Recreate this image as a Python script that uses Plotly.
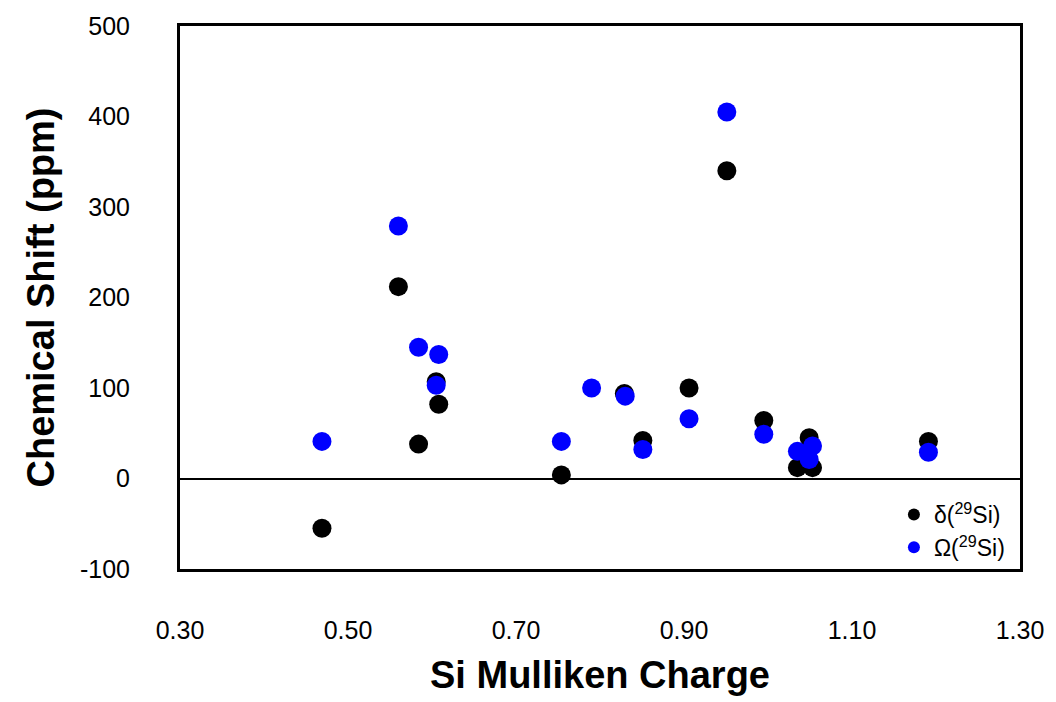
import plotly.graph_objects as go

# Si Mulliken charge (x) and chemical-shift values (ppm)
delta_x = [0.469, 0.560, 0.584, 0.605, 0.608, 0.754, 0.829, 0.851, 0.906, 0.951, 0.995, 1.035, 1.049, 1.053, 1.191]
delta_y = [-55, 212, 38, 107, 82, 4, 94, 42, 100, 340, 64, 12, 45, 12, 41]

omega_x = [0.469, 0.560, 0.584, 0.605, 0.608, 0.754, 0.790, 0.830, 0.851, 0.906, 0.951, 0.995, 1.035, 1.049, 1.053, 1.191]
omega_y = [41, 279, 145, 103, 137, 41, 100, 91, 32, 66, 405, 49, 30, 21, 36, 29]

x_ticks = [0.30, 0.50, 0.70, 0.90, 1.10, 1.30]
x_tick_labels = ["0.30", "0.50", "0.70", "0.90", "1.10", "1.30"]
y_ticks = [-100, 0, 100, 200, 300, 400, 500]
y_tick_labels = ["-100", "0", "100", "200", "300", "400", "500"]

FONT = "Liberation Sans, Arial, sans-serif"

fig = go.Figure()
fig.add_trace(go.Scatter(
    x=delta_x, y=delta_y, mode="markers", name="δ(<sup>29</sup>Si)",
    marker=dict(color="black", size=19, line=dict(width=0)),
))
fig.add_trace(go.Scatter(
    x=omega_x, y=omega_y, mode="markers", name="Ω(<sup>29</sup>Si)",
    marker=dict(color="#0000ff", size=19, line=dict(width=0)),
))

fig.update_layout(
    width=1056, height=702,
    margin=dict(l=180, r=26, t=26, b=121),
    paper_bgcolor="white", plot_bgcolor="white",
    font=dict(family=FONT, color="black"),
    showlegend=True,
    legend=dict(
        x=0.988, y=0.0, xanchor="right", yanchor="bottom",
        bgcolor="rgba(0,0,0,0)", font=dict(size=23, color="black"),
        itemsizing="constant", tracegroupgap=0, itemwidth=30,
    ),
    xaxis=dict(
        range=[0.30, 1.30], tickvals=x_ticks, ticktext=x_tick_labels,
        showgrid=False, zeroline=False,
        showline=True, linecolor="black", linewidth=3, mirror=True,
        ticks="", ticklabelstandoff=37,
        tickfont=dict(size=25, color="black"),
        title=dict(text="<b>Si Mulliken Charge</b>", font=dict(size=38, color="black"), standoff=19),
    ),
    yaxis=dict(
        range=[-100, 500], tickvals=y_ticks, ticktext=y_tick_labels,
        showgrid=False, zeroline=True, zerolinecolor="black", zerolinewidth=1.5,
        showline=True, linecolor="black", linewidth=3, mirror=True,
        ticks="", ticklabelstandoff=42,
        tickfont=dict(size=25, color="black"),
        title=dict(text="<b>Chemical Shift (ppm)</b>", font=dict(size=38, color="black"), standoff=14),
    ),
)

fig.write_html("out.html")
